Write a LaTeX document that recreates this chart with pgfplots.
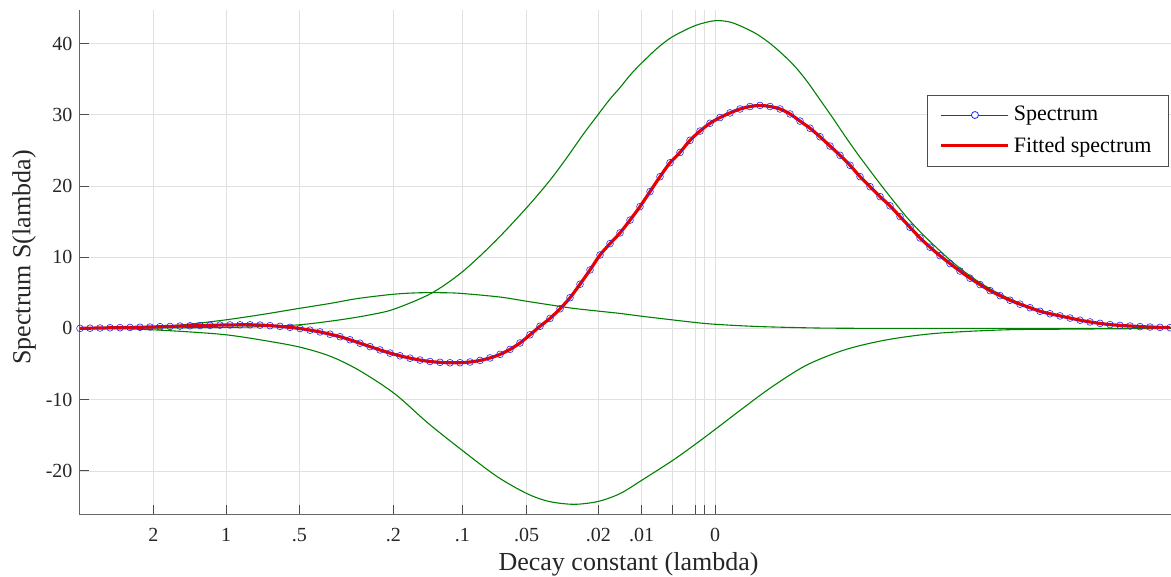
\documentclass[border=0pt]{standalone}
\usepackage{pgfplots}
\pgfplotsset{compat=1.18}
\usepackage{fontspec}
\setmainfont{Liberation Serif}
\definecolor{mgreen}{RGB}{0,128,0}
\definecolor{mblue}{RGB}{40,40,230}
\definecolor{mred}{RGB}{235,0,0}

\pgfplotstableread{
x y
80 0
150 0.05
200 0.1
250 0.2
299 0.5
340 1.2
370 1.9
394 2.7
431 4.9
462 7.9
495 12.2
527 17.0
550 20.8
567 24.0
583 27.2
598 30.0
610 32.2
620 33.8
631 35.7
642 37.3
657 39.3
672 40.9
695 42.5
715 43.2
730 43.0
743 42.3
757 41.3
771 39.9
784 38.3
796 36.6
808 34.5
820 32.1
833 29.5
845 27.0
856 24.8
866 22.9
880 20.3
894 17.8
908 15.4
922 13.3
936 11.4
950 9.6
964 8.0
978 6.6
992 5.4
1006 4.4
1024 3.3
1042 2.45
1060 1.8
1077 1.3
1095 0.85
1112 0.55
1140 0.25
1171 0.1
}\compone

\pgfplotstableread{
x y
80 0
110 0.02
153 0.15
190 0.6
226 1.2
260 1.9
299 2.8
330 3.5
358 4.2
394 4.8
420 5.0
445 5.0
462 4.9
500 4.4
527 3.8
550 3.3
574 2.8
600 2.4
620 2.1
642 1.7
672 1.2
704 0.7
730 0.45
760 0.25
800 0.1
831 0.03
900 0
1171 0
}\comptwo

\pgfplotstableread{
x y
80 0
120 -0.05
153 -0.2
190 -0.5
226 -0.9
260 -1.6
299 -2.6
330 -3.9
358 -5.8
394 -9.1
428 -13.3
462 -17.1
497 -20.8
527 -23.2
549 -24.3
574 -24.7
598 -24.3
620 -23.2
642 -21.3
672 -18.6
695 -16.3
715 -14.2
743 -11.2
771 -8.3
806 -5.2
845 -3.0
887 -1.6
936 -0.7
1006 -0.2
1077 -0.1
1171 0
}\compthree

\pgfplotstableread{
x y
80 0.00
90 0.03
100 0.05
110 0.08
120 0.10
130 0.13
140 0.16
150 0.19
160 0.23
170 0.27
180 0.32
190 0.36
200 0.40
210 0.43
220 0.46
230 0.48
240 0.50
250 0.50
260 0.46
270 0.38
280 0.28
290 0.14
300 -0.02
310 -0.25
320 -0.50
330 -0.82
340 -1.17
350 -1.60
360 -2.08
370 -2.56
380 -3.03
390 -3.47
400 -3.85
410 -4.18
420 -4.45
430 -4.65
440 -4.77
450 -4.83
460 -4.82
470 -4.72
480 -4.50
490 -4.15
500 -3.65
510 -2.95
520 -2.05
530 -0.90
540 0.30
550 1.40
560 2.75
570 4.30
580 6.20
590 8.20
600 10.30
610 11.90
620 13.40
630 15.20
640 17.10
650 19.20
660 21.30
670 23.25
680 24.70
690 26.40
700 27.70
710 28.80
720 29.60
730 30.25
740 30.80
750 31.15
760 31.30
770 31.15
780 30.80
790 30.10
800 29.10
810 28.10
820 26.90
830 25.60
840 24.30
850 22.90
860 21.30
870 19.90
880 18.50
890 17.20
900 15.70
910 14.20
920 12.70
930 11.40
940 10.20
950 9.10
960 8.05
970 7.05
980 6.15
990 5.30
1000 4.60
1010 3.95
1020 3.40
1030 2.90
1040 2.40
1050 2.05
1060 1.75
1070 1.45
1080 1.15
1090 0.90
1100 0.70
1110 0.53
1120 0.42
1130 0.33
1140 0.25
1150 0.19
1160 0.14
1170 0.10
}\spectrum

\begin{document}
\begin{tikzpicture}
\useasboundingbox (-39.75pt,-31pt) rectangle (545.75pt,257.5pt);
\begin{axis}[
  at={(0pt,0pt)}, anchor=south west,
  scale only axis,
  width=545.75pt, height=252.5pt,
  xmin=79.5, xmax=1171,
  ymin=-26.2, ymax=44.7,
  axis x line=bottom, axis y line=left,
  axis line style={black!60, line width=0.5pt, -},
  tick align=inside,
  major tick length=5pt,
  tick style={black!70, line width=0.4pt},
  xtick={153.3,226,299.3,393.3,462.3,526.7,598.3,641.7,672.3,695.7,704.3,715},
  xticklabels={2,1,.5,.2,.1,.05,.02,.01,,,,0},
  ytick={-20,-10,0,10,20,30,40},
  grid=major,
  major grid style={black!12, line width=0.3pt},
  /pgf/number format/assume math mode=true,
  ticklabel style={font=\fontsize{10}{12}\selectfont, text=black!85},
  xticklabel style={yshift=-3pt},
  xlabel={Decay constant (lambda)},
  ylabel={Spectrum S(lambda)},
  label style={font=\fontsize{13}{15}\selectfont, text=black!85},
  xlabel style={at={(axis description cs:0.503,0)}, anchor=north, yshift=-15pt},
  ylabel style={at={(axis description cs:-0.0508,0.51)}, anchor=center},
  legend cell align=left,
  legend style={at={(axis description cs:0.998,0.832)}, anchor=north east,
    font=\fontsize{11}{13}\selectfont, draw=black!70, line width=0.4pt, fill=white,
    inner xsep=6.5pt, inner ysep=3.5pt, row sep=2.5pt},
]
\addplot[mgreen, line width=0.55pt, smooth, forget plot] table {\compone};
\addplot[mgreen, line width=0.55pt, smooth, forget plot] table {\comptwo};
\addplot[mgreen, line width=0.55pt, smooth, forget plot] table {\compthree};
\addplot[mblue, line width=0.35pt, smooth, mark=o, mark size=1.7pt,
  mark options={line width=0.3pt, mblue},
  legend image code/.code={
    \draw[mblue, line width=0.4pt] (0pt,0pt) -- (33.5pt,0pt);
    \draw[mblue, line width=0.4pt, fill=white] (16.75pt,0pt) circle (1.75pt);}
] table {\spectrum};
\addlegendentry{Spectrum}
\addplot[mred, line width=1.6pt, smooth,
  legend image code/.code={\draw[mred, line width=1.5pt] (0pt,0pt) -- (33.5pt,0pt);}
] table {\spectrum};
\addlegendentry{Fitted spectrum}
\end{axis}
\end{tikzpicture}
\end{document}
